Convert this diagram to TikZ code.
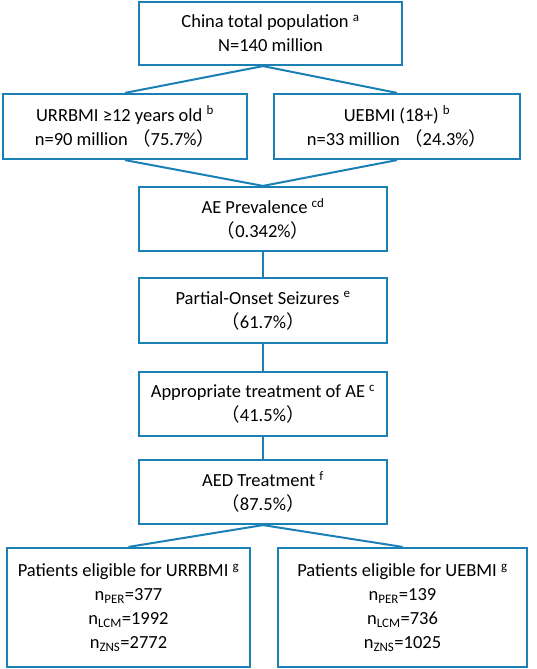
\documentclass[tikz,border=0pt]{standalone}
\usepackage{fontspec}
\setmainfont{Carlito}
\newfontfamily\cjk{Noto Sans CJK SC}
\usepackage{xcolor}
\definecolor{boxblue}{HTML}{1A80B6}
\newcommand{\fwl}{{\cjk （}}
\newcommand{\fwr}{{\cjk ）}}

\begin{document}
\begin{tikzpicture}[x=1pt,y=-1pt,
  stepbox/.style={draw=boxblue,line width=2.2pt,fill=white,align=center,
                  inner sep=0pt,font=\fontsize{18.5}{24}\selectfont},
  link/.style={draw=boxblue,line width=2pt}]

  \useasboundingbox (0,0) rectangle (536,669);

  % boxes
  \node[stepbox,minimum width=263,minimum height=63] (total) at (270.5,33.5)
    {China total population \textsuperscript{a}\\N=140 million};
  \node[stepbox,minimum width=244,minimum height=65] (urr) at (125,126.5)
    {URRBMI ≥12 years old \textsuperscript{b}\\n=90 million \fwl75.7\%\fwr};
  \node[stepbox,minimum width=246,minimum height=65] (ueb) at (397,126.5)
    {UEBMI (18+) \textsuperscript{b}\\n=33 million \fwl24.3\%\fwr};
  \node[stepbox,minimum width=248,minimum height=64] (prev) at (263,219)
    {AE Prevalence \textsuperscript{cd}\\\fwl0.342\%\fwr};
  \node[stepbox,minimum width=248,minimum height=65] (pos) at (263,310.5)
    {Partial-Onset Seizures \textsuperscript{e}\\\fwl61.7\%\fwr};
  \node[stepbox,minimum width=248,minimum height=64] (appr) at (263,404)
    {Appropriate treatment of AE \textsuperscript{c}\\\fwl41.5\%\fwr};
  \node[stepbox,minimum width=248,minimum height=64] (aed) at (263,492)
    {AED Treatment \textsuperscript{f}\\\fwl87.5\%\fwr};
  \node[stepbox,minimum width=243,minimum height=119] (eligurr) at (128.5,607.5)
    {Patients eligible for URRBMI \textsuperscript{g}\\
     n\textsubscript{PER}=377\\n\textsubscript{LCM}=1992\\n\textsubscript{ZNS}=2772};
  \node[stepbox,minimum width=249,minimum height=119] (eligueb) at (402.5,607.5)
    {Patients eligible for UEBMI \textsuperscript{g}\\
     n\textsubscript{PER}=139\\n\textsubscript{LCM}=736\\n\textsubscript{ZNS}=1025};

  % connectors
  \draw[link] (prev.north |- total.south) -- (urr.north);
  \draw[link] (prev.north |- total.south) -- (ueb.north);
  \draw[link] (urr.south) -- (prev.north);
  \draw[link] (ueb.south) -- (prev.north);
  \draw[link] (prev.south) -- (pos.north);
  \draw[link] (pos.south) -- (appr.north);
  \draw[link] (appr.south) -- (aed.north);
  \draw[link] (aed.south) -- (eligurr.north);
  \draw[link] (aed.south) -- (eligueb.north);
\end{tikzpicture}
\end{document}
